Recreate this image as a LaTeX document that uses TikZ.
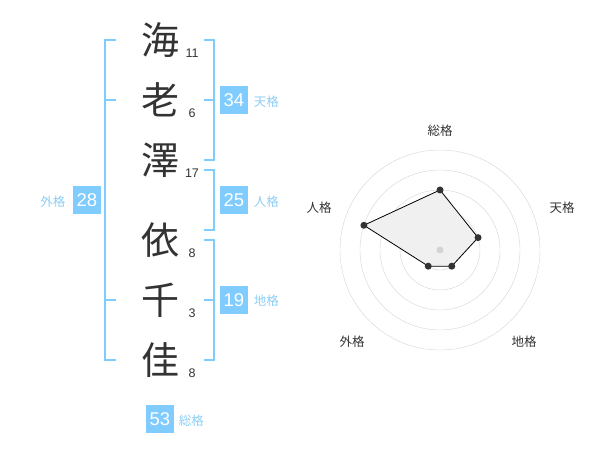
\documentclass[tikz,border=0pt]{standalone}
\usepackage{fontspec}
\setmainfont{Liberation Sans}
\newfontfamily\cjk{Noto Sans CJK JP}
\usetikzlibrary{calc,positioning}
\definecolor{kakuBlue}{RGB}{128,204,255}
\definecolor{kakuText}{RGB}{140,206,245}
\definecolor{inkGray}{RGB}{51,51,51}
\definecolor{ringGray}{RGB}{212,212,212}
\definecolor{areaGray}{RGB}{240,240,240}

\begin{document}
\begin{tikzpicture}[x=1pt,y=-1pt,every node/.style={inner sep=0pt,text=inkGray},
  kanji/.style={font=\cjk\fontsize{38}{38}\selectfont},
  strokes/.style={font=\fontsize{12.5}{12.5}\selectfont},
  kakubox/.style={fill=kakuBlue,text=white,minimum size=28.7pt,font=\fontsize{18.5}{18.5}\selectfont},
  kakulabel/.style={text=kakuText,font=\cjk\fontsize{12.5}{12.5}\selectfont},
  bracket/.style={draw=kakuBlue,line width=2pt},
  axis/.style={font=\cjk\fontsize{12.5}{12.5}\selectfont}]
\useasboundingbox (0,0) rectangle (600,470);
% name
\node [kanji] (Name1) at (160,40) {海};
\node [kanji] (Name2) at (160,100) {老};
\node [kanji] (Name3) at (160,160) {澤};
\node [kanji] (Name4) at (160,240) {依};
\node [kanji] (Name5) at (160,300) {千};
\node [kanji] (Name6) at (160,360) {佳};
\node [strokes] (Strokes1) at ($(Name1)+(32,13)$) {11};
\node [strokes] (Strokes2) at ($(Name2)+(32,13)$) {6};
\node [strokes] (Strokes3) at ($(Name3)+(32,13)$) {17};
\node [strokes] (Strokes4) at ($(Name4)+(32,13)$) {8};
\node [strokes] (Strokes5) at ($(Name5)+(32,13)$) {3};
\node [strokes] (Strokes6) at ($(Name6)+(32,13)$) {8};
% brackets
\draw [bracket] ($(Name1)+(44,0)$) -- ($(Name1)+(54,0)$) -- ($(Name3)+(54,0)$) -- ($(Name3)+(44,0)$);
\draw [bracket] ($(Name2)+(44,0)$) -- ($(Name2)+(54,0)$);
\draw [bracket] ($(Name3)+(44,10)$) -- ($(Name3)+(54,10)$) -- ($(Name4)+(54,-10)$) -- ($(Name4)+(44,-10)$);
\draw [bracket] ($(Name4)+(44,0)$) -- ($(Name4)+(54,0)$) -- ($(Name6)+(54,0)$) -- ($(Name6)+(44,0)$);
\draw [bracket] ($(Name5)+(44,0)$) -- ($(Name5)+(54,0)$);
\draw [bracket] ($(Name1)+(-44,0)$) -- ($(Name1)+(-55,0)$) -- ($(Name6)+(-55,0)$) -- ($(Name6)+(-44,0)$);
\draw [bracket] ($(Name2)+(-55,0)$) -- ($(Name2)+(-44,0)$);
\draw [bracket] ($(Name5)+(-55,0)$) -- ($(Name5)+(-44,0)$);
% kaku
\node [kakubox] (Tenkaku) at ($(Name2)+(74,0)$) {34};
\node [kakubox] (Jinkaku) at ($(Name3)!0.5!(Name4)+(74,0)$) {25};
\node [kakubox] (Chikaku) at ($(Name5)+(74,0)$) {19};
\node [kakubox] (Gaikaku) at ($(Name3)!0.5!(Name4)+(-73,0)$) {28};
\node [kakubox] (Soukaku) at ($(Name6)+(0,59)$) {53};
\node [kakulabel,right=5pt of Tenkaku,yshift=-2pt] (TenkakuLabel) {天格};
\node [kakulabel,right=5pt of Jinkaku,yshift=-2pt] (JinkakuLabel) {人格};
\node [kakulabel,right=5pt of Chikaku,yshift=-1pt] (ChikakuLabel) {地格};
\node [kakulabel,left=7pt of Gaikaku,yshift=-2pt] (GaikakuLabel) {外格};
\node [kakulabel,right=4pt of Soukaku,yshift=-2pt] (SoukakuLabel) {総格};
% radar
\coordinate (Center) at (440,250);
\draw [ringGray] (Center) circle [radius=20pt];
\draw [ringGray] (Center) circle [radius=40pt];
\draw [ringGray] (Center) circle [radius=60pt];
\draw [ringGray] (Center) circle [radius=80pt];
\draw [ringGray] (Center) circle [radius=100pt];
\coordinate (RadarSou) at ($(Center)+(90:60pt)$);
\coordinate (RadarTen) at ($(Center)+(18:40pt)$);
\coordinate (RadarChi) at ($(Center)+(-54:20pt)$);
\coordinate (RadarGai) at ($(Center)+(-126:20pt)$);
\coordinate (RadarJin) at ($(Center)+(162:80pt)$);
\draw [fill=areaGray,line width=0.8pt] (RadarSou) -- (RadarTen) -- (RadarChi) -- (RadarGai) -- (RadarJin) -- cycle;
\fill [ringGray] (Center) circle [radius=3.5pt];
\fill [inkGray] (RadarSou) circle [radius=3.5pt];
\fill [inkGray] (RadarTen) circle [radius=3.5pt];
\fill [inkGray] (RadarChi) circle [radius=3.5pt];
\fill [inkGray] (RadarGai) circle [radius=3.5pt];
\fill [inkGray] (RadarJin) circle [radius=3.5pt];
\node [axis] (AxisSou) at (440,131) {総格};
\node [axis] (AxisTen) at (562,208) {天格};
\node [axis] (AxisChi) at (524,342) {地格};
\node [axis] (AxisGai) at (352,342) {外格};
\node [axis] (AxisJin) at (319,208) {人格};
\end{tikzpicture}
\end{document}
